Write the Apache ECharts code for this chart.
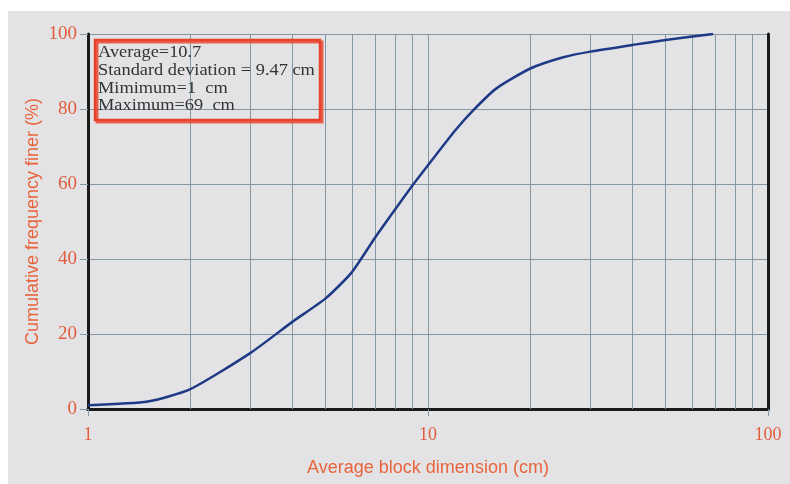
<!DOCTYPE html>
<html>
<head>
<meta charset="utf-8">
<script src="https://cdn.jsdelivr.net/npm/echarts@6/dist/echarts.min.js"></script>
<style>
html,body{margin:0;padding:0;background:#fff;}
#c{width:790px;height:484px;}
</style>
</head>
<body>
<div id="c"></div>
<script>
// Data
const blockSize = [1, 1.5, 2, 3, 4, 5, 5.95, 7, 8, 9, 10, 12, 13.6, 15.9, 20, 25, 30, 40, 50, 69];
const finerPct  = [1, 2, 5.3, 14.9, 23.3, 29.5, 36.3, 45.8, 53.2, 59.6, 65, 74.2, 79.7, 85.5, 90.8, 93.8, 95.3, 97.1, 98.4, 100];
const minorX = [2, 3, 4, 5, 6, 7, 8, 9, 20, 30, 40, 50, 60, 70, 80, 90];
const yTicks = [0, 20, 40, 60, 80, 100];
const xTicks = [1, 10, 100];
const statsLines = ['Average=10.7', 'Standard deviation = 9.47 cm', 'Mimimum=1  cm', 'Maximum=69  cm'];

const labelColor = '#e05c3a';
const gridColor = '#8597a5';

const chart = echarts.init(document.getElementById('c'), null, {renderer: 'canvas'});
const option = {
  backgroundColor: '#ffffff',
  animation: false,
  grid: {left: 88, right: 22, top: 34, bottom: 75, containLabel: false},
  graphic: [
    {type: 'rect', z: -100, shape: {x: 8, y: 11, width: 782, height: 473}, style: {fill: '#e3e3e5'}},
    {type: 'rect', z: 100, shape: {x: 97, y: 42, width: 225, height: 80}, style: {fill: 'none', stroke: '#e8503a', lineWidth: 3, opacity: 0.9}},
    {type: 'rect', z: 101, shape: {x: 95, y: 40, width: 225, height: 80}, style: {fill: 'none', stroke: '#e8412c', lineWidth: 2.5}},
    {type: 'text', z: 102, x: 98, y: 44, scaleX: 1.08,
     style: {text: statsLines.join('\n'), fill: '#333333', font: '17px "Liberation Serif", "DejaVu Serif", serif', lineHeight: 17.7}}
  ],
  xAxis: [{
    type: 'log', logBase: 10, min: 1, max: 100,
    name: 'Average block dimension (cm)', nameLocation: 'middle', nameGap: 50,
    nameTextStyle: {color: '#e8643c', fontFamily: 'Liberation Sans, Arial, sans-serif', fontSize: 18},
    axisLine: {show: true, onZero: false, lineStyle: {color: '#1a1a1a', width: 3}},
    axisTick: {show: true, length: 7, lineStyle: {color: gridColor, width: 1}},
    axisLabel: {color: labelColor, fontFamily: 'Liberation Serif, serif', fontSize: 18, margin: 17,
      formatter: v => xTicks.includes(Math.round(v)) ? String(Math.round(v)) : ''},
    splitLine: {show: true, lineStyle: {color: gridColor, width: 1}}
  }, {
    type: 'log', logBase: 10, min: 1, max: 100, position: 'top',
    axisLine: {show: true, lineStyle: {color: '#1a1a1a', width: 3}},
    axisTick: {show: false}, axisLabel: {show: false}, splitLine: {show: false}
  }],
  yAxis: [{
    type: 'value', min: 0, max: 100, interval: 20,
    name: 'Cumulative frequency finer (%)', nameLocation: 'middle', nameGap: 46, nameMoveOverlap: false,
    nameTextStyle: {color: '#e8643c', fontFamily: 'Liberation Sans, Arial, sans-serif', fontSize: 18},
    axisLine: {show: true, onZero: false, lineStyle: {color: '#1a1a1a', width: 3}},
    axisTick: {show: true, length: 8, lineStyle: {color: gridColor, width: 1}},
    axisLabel: {color: labelColor, fontFamily: 'Liberation Serif, serif', fontSize: 19, margin: 11,
      formatter: v => yTicks.includes(v) ? String(v) : ''},
    splitLine: {show: true, lineStyle: {color: gridColor, width: 1}}
  }, {
    type: 'value', min: 0, max: 100, interval: 20, position: 'right',
    axisLine: {show: true, lineStyle: {color: '#1a1a1a', width: 3}},
    axisTick: {show: false}, axisLabel: {show: false}, splitLine: {show: false}
  }],
  series: [{
    type: 'line',
    data: blockSize.map((x, i) => [x, finerPct[i]]),
    showSymbol: false, symbol: 'none', smooth: 0.2,
    lineStyle: {color: '#1e3a86', width: 2.5},
    z: 10,
    markLine: {
      silent: true, symbol: 'none', label: {show: false}, z: 1,
      lineStyle: {color: gridColor, width: 1, type: 'solid'},
      data: minorX.map(v => ({xAxis: v}))
    }
  }]
};
chart.setOption(option);
</script>
</body>
</html>
